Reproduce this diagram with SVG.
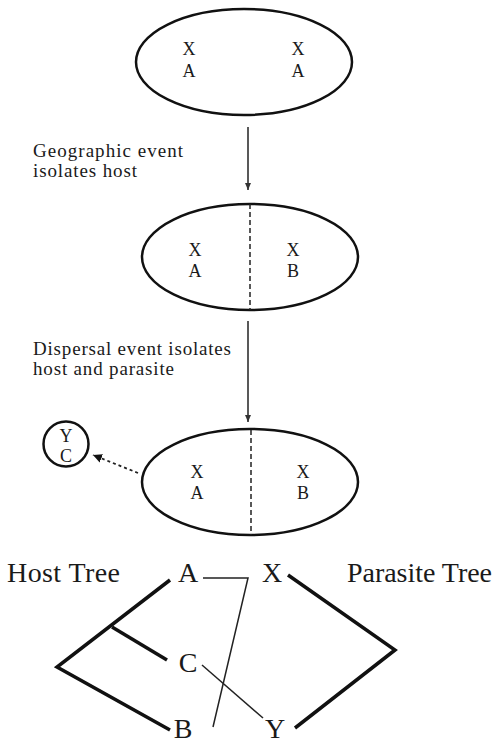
<svg xmlns="http://www.w3.org/2000/svg" width="495" height="743" viewBox="0 0 495 743">
<style>
.t{font-family:"Liberation Serif","Times New Roman",serif;fill:#1a1a1a}
.s{font-size:18px;text-anchor:middle}
.l{font-size:19px}
.big{font-size:28px}
.ell{fill:none;stroke:#111;stroke-width:2.5}
.dash{stroke:#222;stroke-width:1.5;stroke-dasharray:5,3}
.thin{fill:none;stroke:#222;stroke-width:1.5}
.thick{fill:none;stroke:#111;stroke-width:3.5;stroke-linejoin:miter}
</style>
<defs>
<marker id="ah" markerWidth="8" markerHeight="8" refX="7" refY="4" orient="auto" markerUnits="userSpaceOnUse">
<path d="M0,1 L7,4 L0,7 z" fill="#333"/>
</marker>
<marker id="ah2" markerWidth="10" markerHeight="10" refX="9" refY="5" orient="auto" markerUnits="userSpaceOnUse">
<path d="M0,0.5 L9,5 L0,9.5 z" fill="#111"/>
</marker>
</defs>
<rect width="495" height="743" fill="#fff"/>

<g id="stage1">
<ellipse class="ell" cx="244" cy="62" rx="108" ry="53"/>
<text class="t s" x="189" y="55">X</text>
<text class="t s" x="189" y="77">A</text>
<text class="t s" x="298" y="55">X</text>
<text class="t s" x="298" y="77">A</text>
</g>

<g id="stage2">
<ellipse class="ell" cx="250" cy="257" rx="108" ry="53"/>
<line class="dash" x1="250" y1="204" x2="250" y2="310"/>
<text class="t s" x="195" y="256">X</text>
<text class="t s" x="195" y="277">A</text>
<text class="t s" x="293" y="256">X</text>
<text class="t s" x="293" y="277">B</text>
</g>

<g id="stage3">
<ellipse class="ell" cx="250" cy="482" rx="108" ry="53"/>
<line class="dash" x1="251" y1="430" x2="251" y2="535"/>
<text class="t s" x="197" y="478">X</text>
<text class="t s" x="197" y="499">A</text>
<text class="t s" x="303" y="478">X</text>
<text class="t s" x="303" y="499">B</text>
</g>

<g id="isolate">
<circle cx="66" cy="444" r="22.5" fill="none" stroke="#111" stroke-width="2.5"/>
<text class="t s" x="66" y="442">Y</text>
<text class="t s" x="66" y="462">C</text>
</g>

<g id="labels">
<text class="t l" x="33" y="157" textLength="150" lengthAdjust="spacing">Geographic event</text>
<text class="t l" x="33" y="177" textLength="104" lengthAdjust="spacing">isolates host</text>
<text class="t l" x="33" y="355" textLength="198" lengthAdjust="spacing">Dispersal event isolates</text>
<text class="t l" x="33" y="375" textLength="141" lengthAdjust="spacing">host and parasite</text>
</g>

<g id="connectors">
<line class="thin" x1="248" y1="127" x2="248" y2="190" marker-end="url(#ah)"/>
<line class="thin" x1="248" y1="321" x2="248" y2="422" marker-end="url(#ah)"/>
<line x1="138" y1="473" x2="93" y2="455" stroke="#222" stroke-width="1.8" stroke-dasharray="3,3" marker-end="url(#ah2)"/>
</g>

<g id="trees">
<text class="t big" x="7" y="582" textLength="113" lengthAdjust="spacing">Host Tree</text>
<text class="t big" x="347" y="582" textLength="145" lengthAdjust="spacing">Parasite Tree</text>
<text class="t big" x="188" y="582" text-anchor="middle">A</text>
<text class="t big" x="272" y="582" text-anchor="middle">X</text>
<text class="t big" x="188" y="672" text-anchor="middle">C</text>
<text class="t big" x="183" y="738" text-anchor="middle">B</text>
<text class="t big" x="275" y="738" text-anchor="middle">Y</text>
<polyline class="thick" points="170,580 57,667 170,730"/>
<line class="thick" x1="112" y1="627" x2="167" y2="660"/>
<polyline class="thick" points="288,575 395,650 295,728"/>
<polyline class="thin" points="203,578 248,578 213,727"/>
<line class="thin" x1="202" y1="665" x2="263" y2="718"/>
</g>
</svg>
